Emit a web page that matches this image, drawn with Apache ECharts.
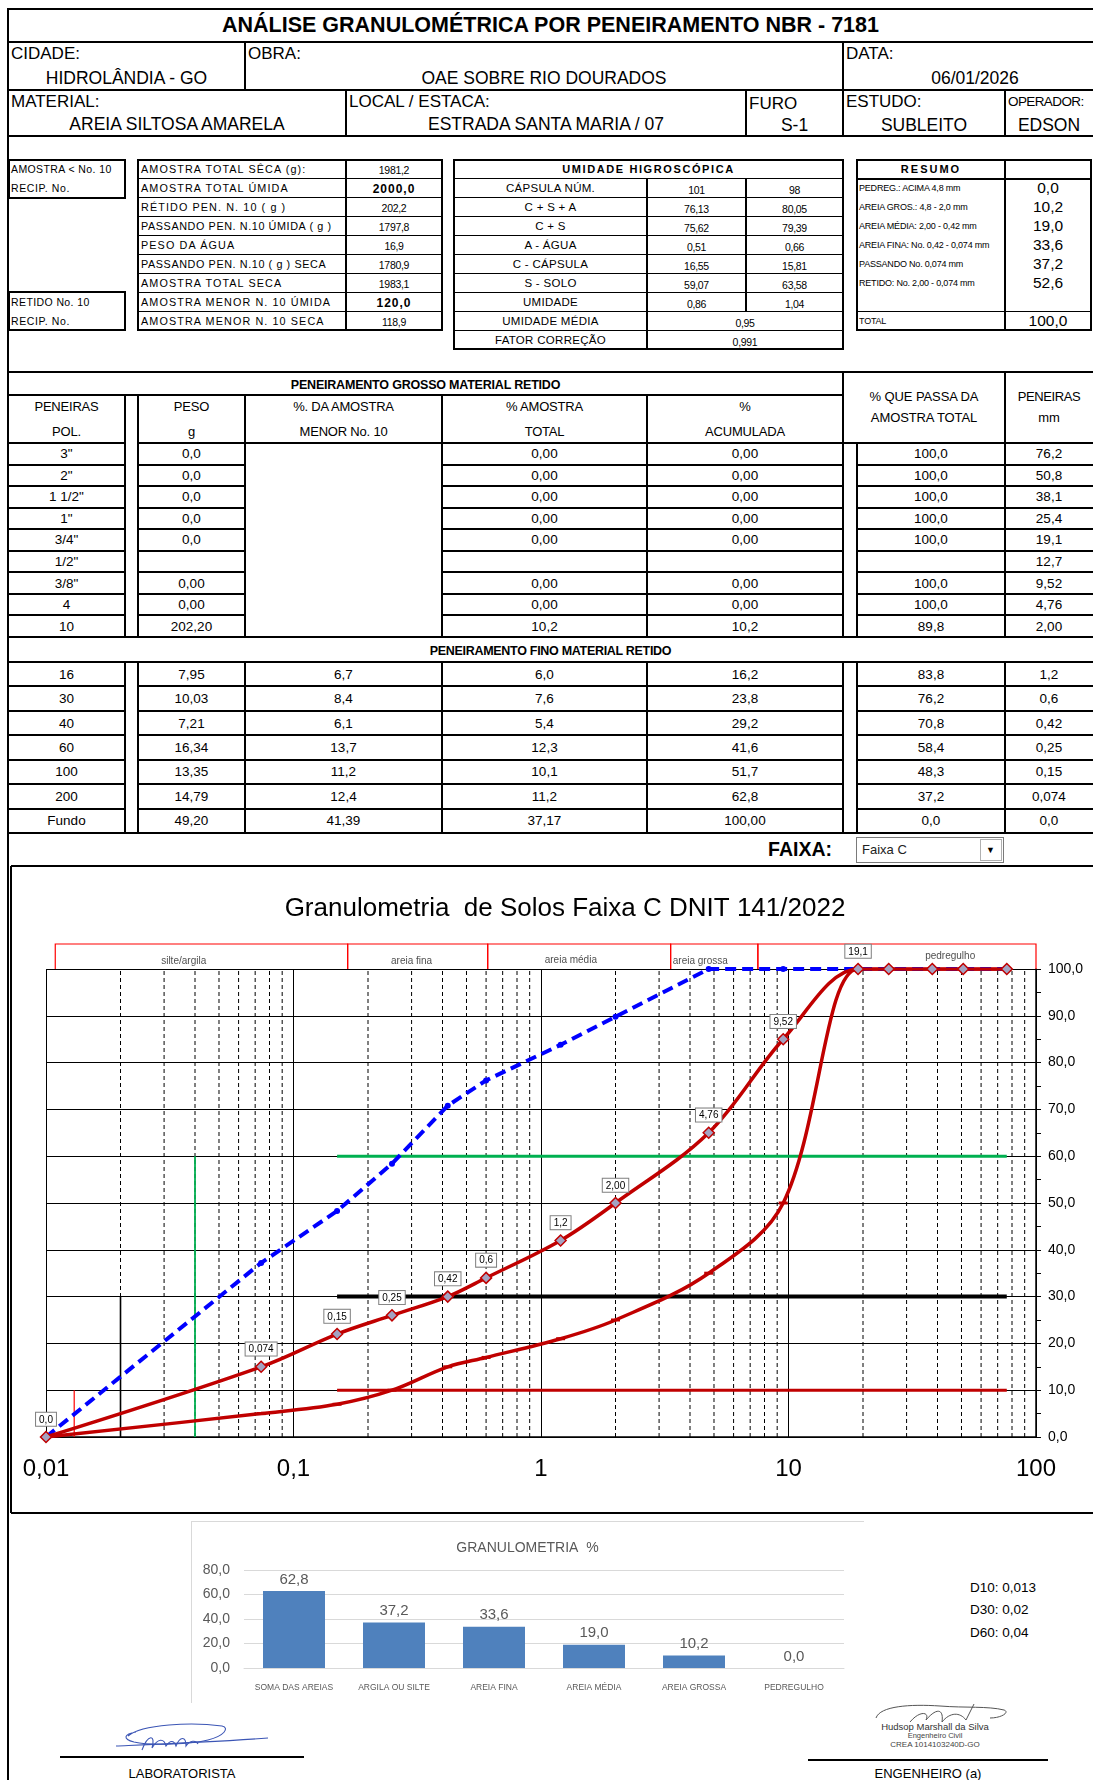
<!DOCTYPE html>
<html><head><meta charset="utf-8">
<script src="https://cdn.jsdelivr.net/npm/echarts@6/dist/echarts.min.js"></script>
<style>
body{margin:0;background:#fff;}
#page{position:relative;width:1093px;height:1780px;overflow:hidden;font-family:'Liberation Sans',Arial,sans-serif;color:#000;background:#fff;}
.l{position:absolute;background:#000;}
.t{position:absolute;display:flex;align-items:center;white-space:nowrap;box-sizing:border-box;}
</style></head>
<body><div id="page">
<div id="main" style="position:absolute;left:11px;top:866px;width:1082px;height:647px;"></div>
<div id="bar" style="position:absolute;left:191px;top:1521px;width:673px;height:181px;"></div>
</div>
<script>
// ---------------- DATA ----------------
const titleText = 'ANÁLISE GRANULOMÉTRICA POR PENEIRAMENTO  NBR - 7181';
const headLabels1 = ['CIDADE:', 'OBRA:', 'DATA:'];
const headValues1 = ['HIDROLÂNDIA - GO', 'OAE SOBRE RIO DOURADOS', '06/01/2026'];
const headLabels2 = ['MATERIAL:', 'LOCAL / ESTACA:', 'FURO', 'ESTUDO:', 'OPERADOR:'];
const headValues2 = ['AREIA SILTOSA AMARELA', 'ESTRADA SANTA MARIA / 07', 'S-1', 'SUBLEITO', 'EDSON'];

const sampleLabels = ['AMOSTRA TOTAL SÊCA (g):', 'AMOSTRA TOTAL ÚMIDA', 'RÉTIDO PEN. N. 10 ( g )', 'PASSANDO PEN. N.10 ÚMIDA ( g )', 'PESO DA ÁGUA', 'PASSANDO PEN. N.10 ( g ) SECA', 'AMOSTRA TOTAL SECA', 'AMOSTRA MENOR N. 10 ÚMIDA', 'AMOSTRA MENOR N.  10 SECA'];
const sampleValues = ['1981,2', '2000,0', '202,2', '1797,8', '16,9', '1780,9', '1983,1', '120,0', '118,9'];
const sampleBold = [false, true, false, false, false, false, false, true, false];

const umidLabels = ['CÁPSULA NÚM.', 'C + S + A', 'C + S', 'A - ÁGUA', 'C - CÁPSULA', 'S - SOLO', 'UMIDADE'];
const umidA = ['101', '76,13', '75,62', '0,51', '16,55', '59,07', '0,86'];
const umidB = ['98', '80,05', '79,39', '0,66', '15,81', '63,58', '1,04'];
const umidSpanLabels = ['UMIDADE MÉDIA', 'FATOR CORREÇÃO'];
const umidSpanValues = ['0,95', '0,991'];

const resumoLabels = ['PEDREG.: ACIMA 4,8 mm', 'AREIA GROS.: 4,8 - 2,0 mm', 'AREIA MÉDIA: 2,00 - 0,42 mm', 'AREIA FINA: No. 0,42 - 0,074 mm', 'PASSANDO No. 0,074 mm', 'RETIDO: No. 2,00 - 0,074 mm', '', 'TOTAL'];
const resumoValues = ['0,0', '10,2', '19,0', '33,6', '37,2', '52,6', '', '100,0'];

const coarseSieves = ['3"', '2"', '1 1/2"', '1"', '3/4"', '1/2"', '3/8"', '4', '10'];
const coarseWeight = ['0,0', '0,0', '0,0', '0,0', '0,0', '', '0,00', '0,00', '202,20'];
const coarsePctTotal = ['0,00', '0,00', '0,00', '0,00', '0,00', '', '0,00', '0,00', '10,2'];
const coarseAccum = ['0,00', '0,00', '0,00', '0,00', '0,00', '', '0,00', '0,00', '10,2'];
const coarsePassing = ['100,0', '100,0', '100,0', '100,0', '100,0', '', '100,0', '100,0', '89,8'];
const coarseMm = ['76,2', '50,8', '38,1', '25,4', '19,1', '12,7', '9,52', '4,76', '2,00'];

const fineSieves = ['16', '30', '40', '60', '100', '200', 'Fundo'];
const fineWeight = ['7,95', '10,03', '7,21', '16,34', '13,35', '14,79', '49,20'];
const finePctMenor = ['6,7', '8,4', '6,1', '13,7', '11,2', '12,4', '41,39'];
const finePctTotal = ['6,0', '7,6', '5,4', '12,3', '10,1', '11,2', '37,17'];
const fineAccum = ['16,2', '23,8', '29,2', '41,6', '51,7', '62,8', '100,00'];
const finePassing = ['83,8', '76,2', '70,8', '58,4', '48,3', '37,2', '0,0'];
const fineMm = ['1,2', '0,6', '0,42', '0,25', '0,15', '0,074', '0,0'];

// granulometric chart
const curveDiam = [0.01, 0.074, 0.15, 0.25, 0.42, 0.6, 1.2, 2.0, 4.76, 9.52, 19.1, 25.4, 38.1, 50.8, 76.2];
const samplePassing = [0, 37.2, 48.3, 58.4, 70.8, 76.2, 83.8, 89.8, 100, 100, 100, 100, 100, 100, 100];
const faixaUpper = [0, 15, 22, 26, 30, 34, 42, 50, 65, 85, 100, 100, 100, 100, 100];
const faixaLower = [0, 5, 7, 10, 15, 17, 21, 25, 35, 50, 100, 100, 100, 100, 100];
const pointLabels = ['0,0', '0,074', '0,15', '0,25', '0,42', '0,6', '1,2', '2,00', '4,76', '9,52', '19,1', '', '', '', ''];
const dDiam = [0.013, 0.02, 0.04];
const dPct = [10, 30, 60];
const dNames = ['D10', 'D30', 'D60'];
const dText = ['0,013', '0,02', '0,04'];
const limitRange = [0.15, 76.2];
const minorGrid = [0.02, 0.03, 0.04, 0.05, 0.06, 0.07, 0.08, 0.09, 0.2, 0.3, 0.4, 0.5, 0.6, 0.7, 0.8, 0.9, 2, 3, 4, 5, 6, 7, 8, 9, 20, 30, 40, 50, 60, 70, 80, 90];
const bandEdges = [0.0109, 0.1655, 0.609, 3.34, 7.52, 100];
const bandNames = ['silte/argila', 'areia fina', 'areia média', 'areia grossa', 'pedregulho'];
const bandLabelDiam = [0.036, 0.30, 1.32, 4.4, 45];
const bandLabelY = [0.3, 0.3, 0.36, 0.3, 0.5];
const chartTitle = 'Granulometria  de Solos Faixa C DNIT 141/2022';

// bar chart
const barCats = ['SOMA DAS AREIAS', 'ARGILA OU SILTE', 'AREIA FINA', 'AREIA MÉDIA', 'AREIA GROSSA', 'PEDREGULHO'];
const barVals = [62.8, 37.2, 33.6, 19.0, 10.2, 0.0];

// ---------------- FORM DRAWING ----------------
const page = document.getElementById('page');
function line(x1, y1, x2, y2, w, c) {
  w = w || 1;
  const d = document.createElement('div'); d.className = 'l';
  if (y1 === y2) { Object.assign(d.style, {left: x1 + 'px', top: (y1 - w / 2) + 'px', width: (x2 - x1) + 'px', height: w + 'px'}); }
  else { Object.assign(d.style, {left: (x1 - w / 2) + 'px', top: y1 + 'px', width: w + 'px', height: (y2 - y1) + 'px'}); }
  if (c) d.style.background = c;
  page.appendChild(d);
}
function rect(x1, y1, x2, y2, w, c) { line(x1 - w / 2, y1, x2 + w / 2, y1, w, c); line(x1 - w / 2, y2, x2 + w / 2, y2, w, c); line(x1, y1, x1, y2, w, c); line(x2, y1, x2, y2, w, c); }
function text(x, y, w, h, s, o) {
  o = o || {};
  const d = document.createElement('div'); d.className = 't';
  Object.assign(d.style, {left: x + 'px', top: y + 'px', width: w + 'px', height: h + 'px', fontSize: (o.size || 13) + 'px',
    fontWeight: o.bold ? 'bold' : 'normal', justifyContent: o.align === 'left' ? 'flex-start' : (o.align === 'right' ? 'flex-end' : 'center'),
    paddingLeft: (o.pl || 0) + 'px', paddingRight: (o.pr || 0) + 'px', letterSpacing: (o.ls || 0) + 'px', color: o.color || '#000'});
  if (o.dy) d.style.transform = 'translateY(' + o.dy + 'px)';
  d.textContent = s;
  page.appendChild(d);
}

// outer left border
line(8, 9, 8, 1780, 2);
// title
line(7, 9, 1093, 9, 2.5); line(7, 42, 1093, 42, 2);
text(8, 9, 1085, 33, titleText, {size: 21.5, bold: true});
// header row 1
const h1x = [8, 245, 843, 1093];
line(245, 42, 245, 90, 1.5); line(843, 42, 843, 90, 1.5); line(7, 90, 1093, 90, 2);
for (let i = 0; i < 3; i++) {
  text(h1x[i], 42, h1x[i + 1] - h1x[i], 24, headLabels1[i], {size: 17, align: 'left', pl: 3});
  const off = i === 2 ? 14 : 0;
  text(h1x[i] + off, 66, h1x[i + 1] - h1x[i] - off, 24, headValues1[i], {size: 17.5});
}
// header row 2
const h2x = [8, 346, 746, 843, 1005, 1093];
[346, 746, 843, 1005].forEach(x => line(x, 90, x, 136, 1.5));
line(7, 136, 1093, 136, 2);
for (let i = 0; i < 5; i++) {
  const small = i === 4;
  text(h2x[i], 90, h2x[i + 1] - h2x[i], 23, headLabels2[i], {size: small ? 13.5 : 17, align: 'left', pl: 3, ls: small ? -0.6 : 0, dy: i === 2 ? 2 : 0});
  text(h2x[i], 113, h2x[i + 1] - h2x[i], 23, headValues2[i], {size: 17.5, dy: i >= 2 ? 1 : 0});
}

// sample section
const sy0 = 160, srh = 18.9;
rect(9, sy0, 125, sy0 + 2 * srh, 2);
text(9, sy0, 116, srh, 'AMOSTRA < No. 10', {size: 10.5, align: 'left', pl: 2, ls: 0.4});
text(9, sy0 + srh, 116, srh, 'RECIP. No.', {size: 10.5, align: 'left', pl: 2, ls: 0.6});
rect(9, sy0 + 7 * srh, 125, sy0 + 9 * srh, 2);
text(9, sy0 + 7 * srh, 116, srh, 'RETIDO No. 10', {size: 10.5, align: 'left', pl: 2, ls: 0.4});
text(9, sy0 + 8 * srh, 116, srh, 'RECIP. No.', {size: 10.5, align: 'left', pl: 2, ls: 0.6});
// main sample table
rect(138, sy0, 442, sy0 + 9 * srh, 2);
line(346, sy0, 346, sy0 + 9 * srh, 1.2);
for (let i = 1; i < 9; i++) line(138, sy0 + i * srh, 442, sy0 + i * srh, 1);
sampleLabels.forEach((s, i) => {
  text(138, sy0 + i * srh, 208, srh, s, {size: 10.8, align: 'left', pl: 3, ls: s.length > 26 ? 0.6 : 1.1});
  text(346, sy0 + i * srh, 96, srh, sampleValues[i], {size: sampleBold[i] ? 12 : 10.5, bold: sampleBold[i], ls: sampleBold[i] ? 1 : -0.3, dy: 1});
});
// umidade table
rect(454, sy0, 843, sy0 + 10 * srh, 2);
text(454, sy0, 389, srh, 'UMIDADE HIGROSCÓPICA', {size: 11, bold: true, ls: 1.6});
for (let i = 1; i < 10; i++) line(454, sy0 + i * srh, 843, sy0 + i * srh, 1);
line(647, sy0 + srh, 647, sy0 + 10 * srh, 1.2);
line(746, sy0 + srh, 746, sy0 + 8 * srh, 1.2);
umidLabels.forEach((s, i) => {
  const y = sy0 + (i + 1) * srh;
  text(454, y, 193, srh, s, {size: 11.5, ls: 0.3});
  text(647, y, 99, srh, umidA[i], {size: 10.5, ls: -0.3, dy: 2});
  text(746, y, 97, srh, umidB[i], {size: 10.5, ls: -0.3, dy: 2});
});
umidSpanLabels.forEach((s, i) => {
  const y = sy0 + (8 + i) * srh;
  text(454, y, 193, srh, s, {size: 11.5, ls: 0.3});
  text(647, y, 196, srh, umidSpanValues[i], {size: 10.5, ls: -0.3, dy: 2});
});
// resumo table
rect(857, sy0, 1091, sy0 + 9 * srh, 2);
line(1005, sy0, 1005, sy0 + 9 * srh, 2);
line(857, sy0 + srh, 1091, sy0 + srh, 1.5);
line(857, sy0 + 8 * srh, 1091, sy0 + 8 * srh, 1);
text(857, sy0, 148, srh, 'RESUMO', {size: 11, bold: true, ls: 2});
resumoLabels.forEach((s, i) => {
  const y = sy0 + (i + 1) * srh;
  text(857, y, 148, srh, s, {size: 9, align: 'left', pl: 2, ls: -0.2});
  text(1005, y, 86, srh, resumoValues[i], {size: 15.5});
});

// coarse sieving table
const cy0 = 372, cyH = 395, cyD = 443, crh = (637 - 443) / 9;
line(7, cy0, 1093, cy0, 2.5);
line(7, cyH, 843, cyH, 2.5);
text(8, cy0, 835, cyH - cy0, 'PENEIRAMENTO  GROSSO MATERIAL RETIDO', {size: 12.5, bold: true, ls: -0.2, dy: 1});
[125, 138, 245, 442, 647].forEach(x => line(x, cyH, x, 637, 1.5));
line(843, cy0, 843, 637, 2.5); line(857, cyD, 857, 637, 1.2); line(1005, cy0, 1005, 637, 1.5);
line(7, cyD, 125, cyD, 2); line(138, cyD, 1093, cyD, 2);
for (let i = 1; i < 9; i++) {
  const y = cyD + i * crh;
  line(8, y, 125, y, 2); line(138, y, 245, y, 2); line(442, y, 843, y, 2); line(857, y, 1093, y, 2);
}
line(7, 637, 1093, 637, 2.5);
const hdr = [[8, 125, 'PENEIRAS', 'POL.'], [138, 245, 'PESO', 'g'], [245, 442, '%. DA AMOSTRA', 'MENOR No. 10'], [442, 647, '% AMOSTRA', 'TOTAL'], [647, 843, '%', 'ACUMULADA']];
hdr.forEach(h => {
  text(h[0], 395, h[1] - h[0], 23, h[2], {size: 13, ls: -0.2});
  text(h[0], 419, h[1] - h[0], 23, h[3], {size: 13, ls: -0.2, dy: 1});
});
text(843, 385, 162, 22, '% QUE PASSA DA', {size: 13, ls: -0.1});
text(843, 406, 162, 22, 'AMOSTRA TOTAL', {size: 13, ls: -0.1});
text(1005, 385, 88, 22, 'PENEIRAS', {size: 13, ls: -0.4});
text(1005, 406, 88, 22, 'mm', {size: 13});
coarseSieves.forEach((s, i) => {
  const y = cyD + i * crh;
  text(8, y, 117, crh, s, {size: 13.5});
  text(138, y, 107, crh, coarseWeight[i], {size: 13.5});
  text(442, y, 205, crh, coarsePctTotal[i], {size: 13.5});
  text(647, y, 196, crh, coarseAccum[i], {size: 13.5});
  text(857, y, 148, crh, coarsePassing[i], {size: 13.5});
  text(1005, y, 88, crh, coarseMm[i], {size: 13.5});
});

// fine sieving table
const fy0 = 637, fyD = 662, frh = (833 - 662) / 7;
text(8, fy0, 1085, fyD - fy0, 'PENEIRAMENTO  FINO MATERIAL RETIDO', {size: 12.5, bold: true, ls: -0.3, dy: 1});
line(7, fyD, 1093, fyD, 2.5);
[125, 138, 245, 442, 647, 843, 857, 1005].forEach(x => line(x, fyD, x, 833, x === 843 ? 2 : 1.5));
for (let i = 1; i < 7; i++) {
  const y = fyD + i * frh;
  line(8, y, 125, y, 2); line(138, y, 843, y, 2); line(857, y, 1093, y, 2);
}
line(7, 833, 1093, 833, 2.5);
fineSieves.forEach((s, i) => {
  const y = fyD + i * frh;
  text(8, y, 117, frh, s, {size: 13.5});
  text(138, y, 107, frh, fineWeight[i], {size: 13.5});
  text(245, y, 197, frh, finePctMenor[i], {size: 13.5});
  text(442, y, 205, frh, finePctTotal[i], {size: 13.5});
  text(647, y, 196, frh, fineAccum[i], {size: 13.5});
  text(857, y, 148, frh, finePassing[i], {size: 13.5});
  text(1005, y, 88, frh, fineMm[i], {size: 13.5});
});
// FAIXA selector
text(700, 834, 132, 31, 'FAIXA:', {size: 19.5, bold: true, align: 'right'});
rect(856, 837, 1003, 862, 1, '#7a7a7a');
text(860, 837, 110, 25, 'Faixa C', {size: 13, align: 'left', pl: 2, color: '#222'});
rect(980, 839, 1001, 860, 1, '#b0b0b0');
text(980, 839, 21, 21, '▼', {size: 9});

// chart box
line(11, 866, 1093, 866, 1.5); line(11, 866, 11, 1513, 1.5); line(11, 1513, 1093, 1513, 1.5);
// bar chart frame
line(191, 1521, 864, 1521, 1, '#d9d9d9'); line(191, 1521, 191, 1703, 1, '#d9d9d9');
// D values
dNames.forEach((n, i) => text(970, 1576 + i * 22.5, 110, 22, n + ':  ' + dText[i], {size: 13.5, align: 'left'}));
// signatures
line(60, 1757, 304, 1757, 2); line(808, 1760, 1048, 1760, 2);
text(60, 1764, 244, 18, 'LABORATORISTA', {size: 13});
text(808, 1764, 240, 18, 'ENGENHEIRO (a)', {size: 13});
text(860, 1721, 150, 11, 'Hudsop Marshall da Silva', {size: 9.5, color: '#333'});
text(860, 1731, 150, 9, 'Engenheiro Civil', {size: 7.5, color: '#444'});
text(860, 1739, 150, 10, 'CREA 1014103240D-GO', {size: 8, color: '#444'});
page.insertAdjacentHTML('beforeend',
  '<svg style="position:absolute;left:112px;top:1716px" width="160" height="44"><g fill="none" stroke="#3b55b5" stroke-width="1.1">' +
  '<path d="M16,20 C30,8 80,6 110,10 C118,12 112,20 96,24 C80,28 40,30 22,26 C10,23 12,18 24,16"/>' +
  '<path d="M30,34 C36,18 44,18 40,32 C46,22 52,22 54,30 C58,24 62,24 64,30 C68,20 74,20 74,30 C78,24 84,24 86,28"/>' +
  '<path d="M4,30 C50,28 100,26 156,22"/></g></svg>' +
  '<svg style="position:absolute;left:870px;top:1700px" width="150" height="26"><g fill="none" stroke="#555" stroke-width="1">' +
  '<path d="M6,18 C10,6 40,4 70,6 C95,8 118,6 134,10 C140,12 132,18 120,18"/>' +
  '<path d="M40,22 C50,10 60,12 56,20 C66,8 74,8 72,22 C80,12 90,12 96,20 L104,4"/></g></svg>');

// ---------------- CHARTS ----------------
const FONT = "'Liberation Sans', Arial, sans-serif";
const fmt = (v, d) => Number(v).toFixed(d).replace('.', ',');
const main = echarts.init(document.getElementById('main'), null, {renderer: 'canvas'});
const upperData = curveDiam.map((d, i) => ({value: [d, faixaUpper[i]], label: {show: pointLabels[i] !== ''}}));
const refSeries = [];
const vColors = ['#FF0000', '#000000', '#00B050'];
const vWidths = [1.2, 1.6, 1.8];
const hColors = ['#C00000', '#000000', '#00B050'];
const hWidths = [3, 4, 3];
dDiam.forEach((d, i) => {
  refSeries.push({type: 'line', xAxisIndex: 0, yAxisIndex: 0, z: 2, silent: true, symbol: 'none', animation: false,
    data: [[d, 0], [d, dPct[i]]], lineStyle: {color: vColors[i], width: vWidths[i]}});
  refSeries.push({type: 'line', xAxisIndex: 0, yAxisIndex: 0, z: 2, silent: true, symbol: 'none', animation: false,
    data: [[limitRange[0], dPct[i]], [limitRange[1], dPct[i]]], lineStyle: {color: hColors[i], width: hWidths[i]}});
});
const bandData = bandNames.map((n, i) => [bandEdges[i], bandEdges[i + 1], 0]);
main.setOption({
  animation: false,
  textStyle: {fontFamily: FONT},
  title: {text: chartTitle, left: 549, top: 25, textAlign: 'center', textStyle: {fontSize: 26, fontWeight: 'normal', color: '#000', fontFamily: FONT}},
  grid: [{left: 35, top: 103, width: 990, height: 468}, {left: 35, top: 78, width: 990, height: 25}],
  xAxis: [
    {type: 'log', logBase: 10, min: 0.01, max: 100, gridIndex: 0,
      axisLine: {show: true, lineStyle: {color: '#000', width: 1.5}}, axisTick: {show: false},
      axisLabel: {fontSize: 24, color: '#000', margin: 20, fontFamily: FONT, formatter: v => String(+(+v).toPrecision(6)).replace('.', ',')},
      splitLine: {show: true, lineStyle: {color: '#000', width: 1, type: 'solid'}}, minorTick: {show: false}, minorSplitLine: {show: false}},
    {type: 'log', logBase: 10, min: 0.01, max: 100, gridIndex: 1, show: false}
  ],
  yAxis: [
    {type: 'value', position: 'right', min: 0, max: 100, interval: 10, gridIndex: 0,
      axisLine: {show: true, lineStyle: {color: '#000', width: 1.5}},
      axisTick: {show: true, length: 5, lineStyle: {color: '#000'}},
      minorTick: {show: true, splitNumber: 2, length: 5, lineStyle: {color: '#000'}},
      axisLabel: {fontSize: 14, color: '#000', margin: 12, fontFamily: FONT, formatter: v => fmt(v, 1)},
      splitLine: {show: true, lineStyle: {color: '#000', width: 1, type: 'solid'}}},
    {type: 'value', min: 0, max: 1, gridIndex: 1, show: false}
  ],
  series: [
    {type: 'custom', xAxisIndex: 0, yAxisIndex: 0, silent: true, z: 1, data: minorGrid.map(v => [v, 0]), encode: {x: 0, y: 1},
      renderItem: (params, api) => {
        const p0 = api.coord([api.value(0), 0]); const p1 = api.coord([api.value(0), 100]);
        return {type: 'line', shape: {x1: p0[0], y1: p0[1], x2: p1[0], y2: p1[1]}, style: {stroke: '#000', lineWidth: 1, lineDash: [4, 3]}};
      }},
    {type: 'custom', xAxisIndex: 1, yAxisIndex: 1, silent: true, z: 1, data: bandData, encode: {x: [0, 1], y: 2},
      renderItem: (params, api) => {
        const a = api.coord([api.value(0), 0]); const b = api.coord([api.value(1), 1]);
        return {type: 'polyline', shape: {points: [[a[0], a[1]], [a[0], b[1]], [b[0], b[1]], [b[0], a[1]]]}, style: {stroke: '#FF0000', lineWidth: 1.2, fill: null}};
      }},
    {type: 'scatter', xAxisIndex: 1, yAxisIndex: 1, silent: true, z: 6, symbol: 'circle', symbolSize: 2, itemStyle: {color: 'rgba(255,255,255,0)'},
      data: bandLabelDiam.map((d, i) => [d, bandLabelY[i]]),
      label: {show: true, position: 'inside', fontSize: 10, color: '#222', fontFamily: FONT, formatter: p => bandNames[p.dataIndex]},
      labelLayout: {hideOverlap: false}},
    ...refSeries,
    {type: 'line', name: 'inferior', xAxisIndex: 0, yAxisIndex: 0, z: 3, smooth: 0.35, data: curveDiam.map((d, i) => [d, faixaLower[i]]),
      symbol: 'rect', symbolSize: [9, 3], itemStyle: {color: '#C00000'}, lineStyle: {color: '#C00000', width: 3.5}},
    {type: 'line', name: 'amostra', xAxisIndex: 0, yAxisIndex: 0, z: 4, data: curveDiam.map((d, i) => [d, samplePassing[i]]),
      symbol: 'circle', symbolSize: 6, itemStyle: {color: '#0000FF'}, lineStyle: {color: '#0000FF', width: 4, type: [11, 6]}},
    {type: 'line', name: 'superior', xAxisIndex: 0, yAxisIndex: 0, z: 5, smooth: 0.35, data: upperData,
      symbol: 'diamond', symbolSize: 11, itemStyle: {color: '#A3A3C2', borderColor: '#C00000', borderWidth: 1.5},
      lineStyle: {color: '#C00000', width: 3.5},
      label: {show: false, position: 'top', distance: 5, fontSize: 10, color: '#000', fontFamily: FONT,
        backgroundColor: '#fff', borderColor: '#7F7F7F', borderWidth: 1, padding: [2, 3, 1, 3],
        formatter: p => pointLabels[p.dataIndex]}}
  ]
});

const bar = echarts.init(document.getElementById('bar'), null, {renderer: 'canvas'});
bar.setOption({
  animation: false,
  textStyle: {fontFamily: FONT},
  title: {text: 'GRANULOMETRIA  %', left: 'center', top: 15, textStyle: {fontSize: 14, fontWeight: 'normal', color: '#595959', fontFamily: FONT}},
  grid: {left: 53, top: 49, width: 600, height: 98},
  xAxis: {type: 'category', data: barCats, axisLine: {show: true, lineStyle: {color: '#D9D9D9'}}, axisTick: {show: false},
    axisLabel: {fontSize: 8.5, color: '#595959', margin: 15, interval: 0, fontFamily: FONT}},
  yAxis: {type: 'value', min: 0, max: 80, interval: 20, axisLine: {show: false}, axisTick: {show: false},
    axisLabel: {fontSize: 14, color: '#595959', margin: 14, fontFamily: FONT, formatter: v => fmt(v, 1)},
    splitLine: {show: true, lineStyle: {color: '#D9D9D9', width: 1, type: 'solid'}}},
  series: [{type: 'bar', data: barVals, barWidth: 62, itemStyle: {color: '#4F81BD'},
    label: {show: true, position: 'top', distance: 4, fontSize: 15, color: '#595959', fontFamily: FONT, formatter: p => fmt(p.value, 1)}}]
});
</script>
</body></html>
